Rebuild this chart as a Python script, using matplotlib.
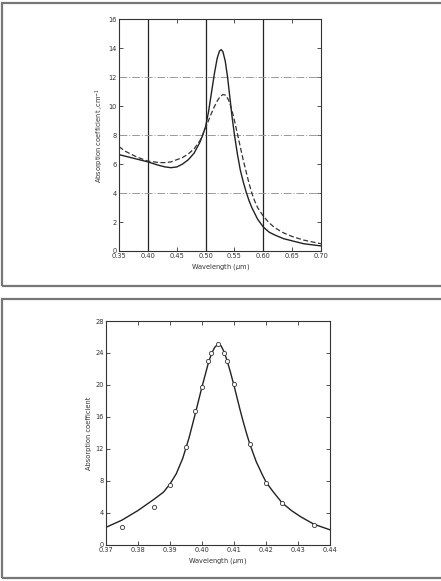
import matplotlib.pyplot as plt
from matplotlib.patches import Rectangle

# top panel: two absorption spectra
top_x_solid = [0.35, 0.36, 0.37, 0.38, 0.39, 0.40, 0.41, 0.42, 0.43, 0.44, 0.45, 0.46,
               0.47, 0.48, 0.49, 0.495, 0.50, 0.505, 0.51, 0.515, 0.52, 0.524, 0.527,
               0.530, 0.534, 0.538, 0.542, 0.546, 0.55, 0.555, 0.56, 0.565, 0.57,
               0.575, 0.58, 0.59, 0.60, 0.61, 0.62, 0.635, 0.65, 0.67, 0.70]
top_y_solid = [6.65, 6.55, 6.45, 6.35, 6.25, 6.15, 6.02, 5.9, 5.8, 5.75, 5.8, 6.0,
               6.3, 6.75, 7.5, 8.0, 8.6, 9.6, 10.9, 12.2, 13.3, 13.8, 13.9,
               13.75, 13.1, 12.0, 10.6, 9.2, 8.0, 6.7, 5.6, 4.8, 4.1,
               3.5, 3.0, 2.2, 1.65, 1.3, 1.1, 0.85, 0.7, 0.5, 0.35]
top_x_dash = [0.35, 0.36, 0.37, 0.38, 0.39, 0.40, 0.41, 0.42, 0.43, 0.44, 0.45, 0.46,
              0.47, 0.48, 0.49, 0.50, 0.505, 0.51, 0.515, 0.52, 0.525, 0.53, 0.535,
              0.54, 0.545, 0.55, 0.555, 0.56, 0.565, 0.57, 0.575, 0.58, 0.585, 0.59,
              0.60, 0.61, 0.62, 0.635, 0.65, 0.67, 0.70]
top_y_dash = [7.2, 6.9, 6.7, 6.5, 6.35, 6.2, 6.15, 6.1, 6.1, 6.15, 6.3, 6.45,
              6.7, 7.05, 7.6, 8.5, 9.0, 9.5, 9.95, 10.35, 10.65, 10.8, 10.75,
              10.4, 9.8, 9.0, 8.1, 7.2, 6.3, 5.5, 4.7, 4.0, 3.45, 3.0,
              2.4, 1.95, 1.6, 1.25, 1.0, 0.75, 0.5]

# bottom panel: fitted curve and measured points
bot_x_curve = [0.370, 0.375, 0.380, 0.385, 0.388, 0.390, 0.392, 0.394, 0.395, 0.396,
               0.398, 0.400, 0.401, 0.402, 0.403, 0.404, 0.405, 0.406, 0.407, 0.408,
               0.409, 0.410, 0.411, 0.412, 0.413, 0.414, 0.415, 0.417, 0.419, 0.420,
               0.422, 0.425, 0.428, 0.431, 0.435, 0.440]
bot_y_curve = [2.2, 3.1, 4.3, 5.7, 6.6, 7.6, 8.9, 10.8, 12.1, 13.4,
               16.5, 19.7, 21.2, 22.7, 23.9, 24.7, 25.1, 24.9, 24.1, 22.9,
               21.5, 20.0, 18.4, 16.8, 15.3, 13.9, 12.6, 10.4, 8.7, 7.9,
               6.8, 5.3, 4.3, 3.5, 2.6, 1.9]
bot_x_pts = [0.375, 0.385, 0.390, 0.395, 0.398, 0.400, 0.402, 0.403, 0.405, 0.407,
             0.408, 0.410, 0.415, 0.420, 0.425, 0.435]
bot_y_pts = [2.3, 4.8, 7.5, 12.3, 16.7, 19.8, 23.0, 24.0, 25.1, 24.0,
             23.0, 20.1, 12.6, 7.8, 5.2, 2.5]

top_xticks = [0.35, 0.40, 0.45, 0.50, 0.55, 0.60, 0.65, 0.70]
top_xlabels = ["0.35", "0.40", "0.45", "0.50", "0.55", "0.60", "0.65", "0.70"]
bot_xticks = [0.37, 0.38, 0.39, 0.40, 0.41, 0.42, 0.43, 0.44]
bot_xlabels = ["0.37", "0.38", "0.39", "0.40", "0.41", "0.42", "0.43", "0.44"]

plt.rcParams['font.family'] = 'DejaVu Sans'
fs = 4.8

fig = plt.figure(figsize=(4.41, 5.81), dpi=100)

# panel frames like the scanned page
fig.add_artist(Rectangle((2 / 441, 1 - 286 / 581), 445 / 441, 283 / 581,
                         transform=fig.transFigure, fill=False, ec="#777777", lw=1.6))
fig.add_artist(Rectangle((2 / 441, 1 - 578 / 581), 445 / 441, 279 / 581,
                         transform=fig.transFigure, fill=False, ec="#777777", lw=1.6))

# --- top panel
ax1 = fig.add_axes([0.270, 0.568, 0.458, 0.399])
for v in [0.40, 0.50, 0.60]:
    ax1.axvline(v, color="#222222", lw=0.9)
for h in [4, 8, 12]:
    ax1.axhline(h, color="#999999", lw=0.7, ls=(0, (8, 2, 1, 2)))
ax1.plot(top_x_solid, top_y_solid, color="#222222", lw=1.0)
ax1.plot(top_x_dash, top_y_dash, color="#333333", lw=0.9, ls=(0, (4, 2)))
ax1.set_xlim(0.35, 0.70)
ax1.set_ylim(0, 16)
ax1.set_xticks(top_xticks)
ax1.set_xticklabels(top_xlabels)
ax1.set_yticks(range(0, 17, 2))
ax1.tick_params(direction="in", top=True, right=True, labelsize=fs, length=3,
                width=0.6, pad=1.5, color="#333333", labelcolor="#333333")
ax1.set_xlabel("Wavelength ($\\mu$m)", fontsize=fs, labelpad=2, color="#333333")
ax1.set_ylabel("Absorption coefficient ,cm$^{-1}$", fontsize=fs, labelpad=2, color="#333333")
for s in ax1.spines.values():
    s.set_linewidth(0.8)
    s.set_color("#333333")

# --- bottom panel
ax2 = fig.add_axes([0.240, 0.062, 0.508, 0.3855])
ax2.plot(bot_x_curve, bot_y_curve, color="#222222", lw=1.0)
ax2.plot(bot_x_pts, bot_y_pts, ls="none", marker="o", ms=3, mfc="white",
         mec="#333333", mew=0.6)
ax2.set_xlim(0.37, 0.44)
ax2.set_ylim(0, 28)
ax2.set_xticks(bot_xticks)
ax2.set_xticklabels(bot_xlabels)
ax2.set_yticks(range(0, 29, 4))
ax2.tick_params(direction="in", top=True, right=True, labelsize=fs, length=3,
                width=0.6, pad=1.5, color="#333333", labelcolor="#333333")
ax2.set_xlabel("Wavelength ($\\mu$m)", fontsize=fs, labelpad=2, color="#333333")
ax2.set_ylabel("Absorption coefficient", fontsize=fs, labelpad=2, color="#333333")
for s in ax2.spines.values():
    s.set_linewidth(0.8)
    s.set_color("#333333")

fig.savefig("out.png", dpi=100)
